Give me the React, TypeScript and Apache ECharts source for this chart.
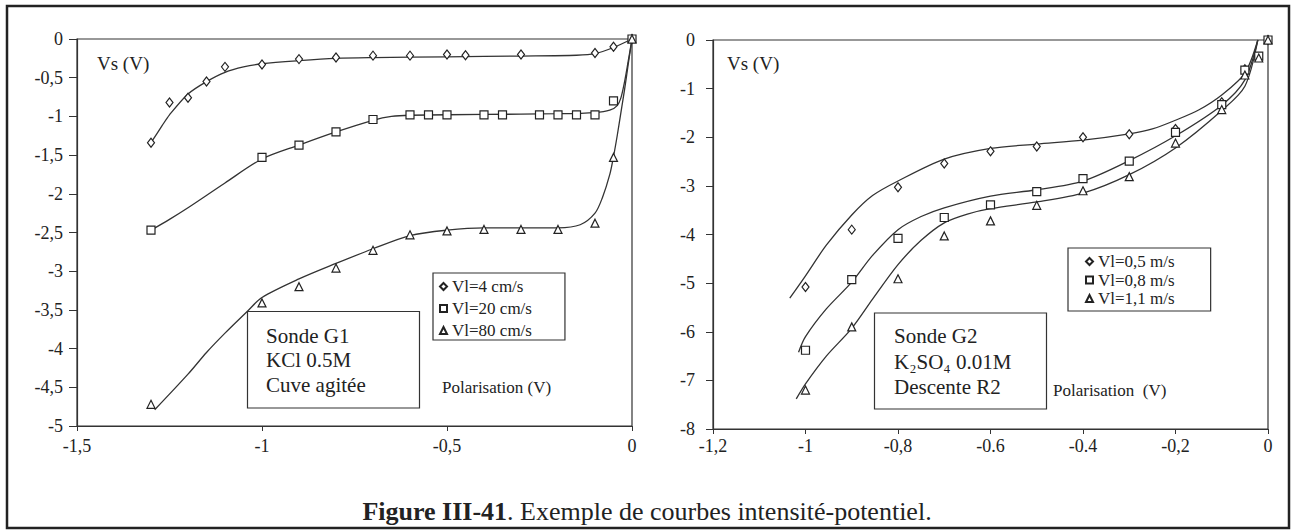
import React, { useEffect, useRef } from "react";
import * as echarts from "echarts";

// ---------- Left chart (Sonde G1) : measured points ----------
const L_NAMES = ["Vl=4 cm/s", "Vl=20 cm/s", "Vl=80 cm/s"];
const L_A_X = [-1.3, -1.25, -1.2, -1.15, -1.1, -1.0, -0.9, -0.8, -0.7, -0.6, -0.5, -0.45, -0.3, -0.1, -0.05, 0];
const L_A_Y = [-1.34, -0.82, -0.76, -0.55, -0.36, -0.33, -0.26, -0.24, -0.215, -0.215, -0.2, -0.21, -0.2, -0.18, -0.1, 0];
const L_B_X = [-1.3, -1.0, -0.9, -0.8, -0.7, -0.6, -0.55, -0.5, -0.4, -0.35, -0.25, -0.2, -0.15, -0.1, -0.05, 0];
const L_B_Y = [-2.47, -1.53, -1.37, -1.2, -1.04, -0.98, -0.98, -0.98, -0.98, -0.98, -0.98, -0.98, -0.98, -0.98, -0.8, 0];
const L_C_X = [-1.3, -1.0, -0.9, -0.8, -0.7, -0.6, -0.5, -0.4, -0.3, -0.2, -0.1, -0.05, 0];
const L_C_Y = [-4.72, -3.41, -3.2, -2.96, -2.73, -2.53, -2.48, -2.46, -2.46, -2.46, -2.38, -1.53, 0];

// ---------- Left chart : fitted curves ----------
const L_FA_X = [-1.3, -1.27, -1.25, -1.2, -1.15, -1.1, -1.05, -1.0, -0.9, -0.8, -0.7, -0.5, -0.3, -0.15, -0.1, -0.05, 0];
const L_FA_Y = [-1.34, -1.12, -0.98, -0.71, -0.55, -0.43, -0.36, -0.32, -0.28, -0.25, -0.24, -0.23, -0.22, -0.21, -0.19, -0.11, 0];
const L_FB_X = [-1.3, -1.25, -1.2, -1.1, -1.0, -0.9, -0.8, -0.7, -0.65, -0.6, -0.4, -0.2, -0.1, -0.06, -0.04, -0.03, -0.02, -0.01, 0];
const L_FB_Y = [-2.47, -2.33, -2.18, -1.86, -1.55, -1.37, -1.2, -1.05, -1.0, -0.985, -0.975, -0.965, -0.95, -0.92, -0.86, -0.76, -0.55, -0.28, 0];
const L_FC_X = [-1.29, -1.2, -1.15, -1.1, -1.04, -1.0, -0.9, -0.8, -0.7, -0.6, -0.5, -0.4, -0.3, -0.2, -0.14, -0.1, -0.08, -0.06, -0.05, -0.04, -0.03, -0.02, -0.01, 0];
const L_FC_Y = [-4.79, -4.33, -4.05, -3.8, -3.52, -3.34, -3.1, -2.9, -2.71, -2.54, -2.47, -2.44, -2.44, -2.44, -2.4, -2.25, -2.05, -1.75, -1.52, -1.25, -0.95, -0.65, -0.32, 0];

// ---------- Right chart (Sonde G2) : measured points ----------
const R_NAMES = ["Vl=0,5 m/s", "Vl=0,8 m/s", "Vl=1,1 m/s"];
const R_A_X = [-1.0, -0.9, -0.8, -0.7, -0.6, -0.5, -0.4, -0.3, -0.2, -0.1, -0.05, 0];
const R_A_Y = [-5.08, -3.9, -3.03, -2.54, -2.29, -2.19, -2.0, -1.94, -1.83, -1.28, -0.6, 0];
const R_B_X = [-1.0, -0.9, -0.8, -0.7, -0.6, -0.5, -0.4, -0.3, -0.2, -0.1, -0.05, -0.02, 0];
const R_B_Y = [-6.38, -4.93, -4.08, -3.65, -3.39, -3.12, -2.85, -2.49, -1.9, -1.33, -0.62, -0.33, 0];
const R_C_X = [-1.0, -0.9, -0.8, -0.7, -0.6, -0.5, -0.4, -0.3, -0.2, -0.1, -0.05, -0.02, 0];
const R_C_Y = [-7.2, -5.9, -4.91, -4.03, -3.72, -3.4, -3.1, -2.81, -2.12, -1.43, -0.72, -0.37, 0];

// ---------- Right chart : fitted curves ----------
const R_FA_X = [-1.034, -1.0, -0.955, -0.9, -0.855, -0.8, -0.7, -0.6, -0.5, -0.4, -0.3, -0.25, -0.2, -0.15, -0.1, -0.05, -0.022];
const R_FA_Y = [-5.31, -4.85, -4.22, -3.6, -3.2, -2.9, -2.45, -2.23, -2.14, -2.06, -1.93, -1.83, -1.65, -1.44, -1.13, -0.68, 0];
const R_FB_X = [-1.015, -1.0, -0.955, -0.9, -0.855, -0.8, -0.75, -0.7, -0.6, -0.5, -0.4, -0.3, -0.2, -0.1, -0.05, -0.022];
const R_FB_Y = [-6.42, -6.1, -5.53, -4.98, -4.43, -3.9, -3.63, -3.45, -3.21, -3.08, -2.9, -2.48, -1.97, -1.34, -0.82, 0];
const R_FC_X = [-1.02, -1.0, -0.955, -0.9, -0.855, -0.8, -0.75, -0.7, -0.65, -0.6, -0.5, -0.4, -0.3, -0.2, -0.1, -0.05, -0.022];
const R_FC_Y = [-7.38, -7.07, -6.5, -5.93, -5.33, -4.62, -4.12, -3.76, -3.58, -3.47, -3.33, -3.15, -2.77, -2.22, -1.45, -0.95, 0];

// ---------- Tick labels ----------
const L_X_TICKS = [-1.5, -1, -0.5, 0];
const L_X_LABELS = ["-1,5", "-1", "-0,5", "0"];
const L_Y_TICKS = [0, -0.5, -1, -1.5, -2, -2.5, -3, -3.5, -4, -4.5, -5];
const L_Y_LABELS = ["0", "-0,5", "-1", "-1,5", "-2", "-2,5", "-3", "-3,5", "-4", "-4,5", "-5"];
const R_X_TICKS = [-1.2, -1, -0.8, -0.6, -0.4, -0.2, 0];
const R_X_LABELS = ["-1,2", "-1", "-0,8", "-0.6", "-0.4", "-0,2", "0"];
const R_Y_TICKS = [0, -1, -2, -3, -4, -5, -6, -7, -8];
const R_Y_LABELS = ["0", "-1", "-2", "-3", "-4", "-5", "-6", "-7", "-8"];

const SYMBOLS = ["diamond", "rect", "triangle"];
const SYMBOL_SIZES: any[] = [[7, 9], 8, 8];

const FONT = '"Liberation Serif", "Times New Roman", serif';
const INK = "#222";

const zip = (xs: number[], ys: number[]) => xs.map((x, i) => [x, ys[i]]);
const lookup = (ticks: number[], labels: string[]) => (v: number) => {
  const i = ticks.findIndex((t) => Math.abs(t - v) < 1e-6);
  return i >= 0 ? labels[i] : "";
};

export default function App() {
  const ref = useRef<HTMLDivElement>(null);

  useEffect(() => {
    if (!ref.current) return;
    const chart = echarts.init(ref.current, undefined, { renderer: "svg" });

    const axisLine = { show: true, lineStyle: { color: "#333", width: 1.2 } };
    const labelStyle = { fontFamily: FONT, fontSize: 18, color: INK };

    const scatter = (name: string, data: number[][], k: number, idx: number) => ({
      name,
      type: "scatter",
      xAxisIndex: idx,
      yAxisIndex: idx,
      data,
      symbol: SYMBOLS[k],
      symbolSize: SYMBOL_SIZES[k],
      itemStyle: { color: "#fff", borderColor: INK, borderWidth: 1.2, opacity: 1 },
      z: 4,
      silent: true,
    });
    const curve = (name: string, data: number[][], idx: number) => ({
      name,
      type: "line",
      xAxisIndex: idx,
      yAxisIndex: idx,
      data,
      showSymbol: false,
      smooth: 0.3,
      lineStyle: { color: "#333", width: 1.3 },
      z: 3,
      silent: true,
    });

    const legendBase = {
      orient: "vertical",
      selectedMode: false,
      itemWidth: 7,
      itemHeight: 7,
      borderColor: "#333",
      borderWidth: 1.2,
      backgroundColor: "#fff",
      textStyle: { fontFamily: FONT, fontSize: 17, color: INK, lineHeight: 17 },
    };

    const text = (t: string, x: number, y: number, size: number, align = "left") => ({
      type: "text",
      x,
      y,
      z: 10,
      style: {
        text: t,
        fontFamily: FONT,
        fontSize: size,
        fill: INK,
        align,
        verticalAlign: "middle",
      },
    });

    chart.setOption({
      animation: false,
      backgroundColor: "#fff",
      grid: [
        { left: 77, top: 39, width: 555, height: 387, show: true, borderColor: "#333", borderWidth: 1.2, backgroundColor: "transparent" },
        { left: 713, top: 40, width: 555, height: 389, show: true, borderColor: "#333", borderWidth: 1.2, backgroundColor: "transparent" },
      ],
      xAxis: [
        {
          type: "value", gridIndex: 0, min: -1.5, max: 0, interval: 0.5, position: "bottom",
          axisLine: { ...axisLine, onZero: false },
          axisTick: { show: true, length: 5, lineStyle: { color: "#333" } },
          axisLabel: { ...labelStyle, margin: 11, formatter: lookup(L_X_TICKS, L_X_LABELS) },
          splitLine: { show: false },
        },
        {
          type: "value", gridIndex: 1, min: -1.2, max: 0, interval: 0.2, position: "bottom",
          axisLine: { ...axisLine, onZero: false },
          axisTick: { show: true, length: 5, lineStyle: { color: "#333" } },
          axisLabel: { ...labelStyle, margin: 8, formatter: lookup(R_X_TICKS, R_X_LABELS) },
          splitLine: { show: false },
        },
      ],
      yAxis: [
        {
          type: "value", gridIndex: 0, min: -5, max: 0, interval: 0.5, position: "left",
          axisLine: { ...axisLine, onZero: false },
          axisTick: { show: true, length: 8, lineStyle: { color: "#333" } },
          axisLabel: { ...labelStyle, margin: 14, formatter: lookup(L_Y_TICKS, L_Y_LABELS) },
          splitLine: { show: false },
        },
        {
          type: "value", gridIndex: 1, min: -8, max: 0, interval: 1, position: "left",
          axisLine: { ...axisLine, onZero: false },
          axisTick: { show: true, length: 7, lineStyle: { color: "#333" } },
          axisLabel: { ...labelStyle, margin: 18, formatter: lookup(R_Y_TICKS, R_Y_LABELS) },
          splitLine: { show: false },
        },
      ],
      legend: [
        { ...legendBase, left: 433, top: 273, itemGap: 5, padding: [5, 33, 1, 6], data: L_NAMES },
        { ...legendBase, left: 1068, top: 248, itemGap: 1.5, padding: [5, 36, 4, 17], data: R_NAMES },
      ],
      series: [
        curve("fit-L1", zip(L_FA_X, L_FA_Y), 0),
        curve("fit-L2", zip(L_FB_X, L_FB_Y), 0),
        curve("fit-L3", zip(L_FC_X, L_FC_Y), 0),
        scatter(L_NAMES[0], zip(L_A_X, L_A_Y), 0, 0),
        scatter(L_NAMES[1], zip(L_B_X, L_B_Y), 1, 0),
        scatter(L_NAMES[2], zip(L_C_X, L_C_Y), 2, 0),
        curve("fit-R1", zip(R_FA_X, R_FA_Y), 1),
        curve("fit-R2", zip(R_FB_X, R_FB_Y), 1),
        curve("fit-R3", zip(R_FC_X, R_FC_Y), 1),
        scatter(R_NAMES[0], zip(R_A_X, R_A_Y), 0, 1),
        scatter(R_NAMES[1], zip(R_B_X, R_B_Y), 1, 1),
        scatter(R_NAMES[2], zip(R_C_X, R_C_Y), 2, 1),
      ],
      graphic: [
        {
          type: "rect", z: 0, silent: true,
          shape: { x: 7, y: 6, width: 1282, height: 522 },
          style: { fill: "none", stroke: INK, lineWidth: 2.5 },
        },
        text("Vs (V)", 97, 63, 19),
        text("Vs (V)", 727, 63, 19),
        text("Polarisation (V)", 442, 387, 17),
        text("Polarisation  (V)", 1053, 390, 17),
        {
          type: "rect", z: 9, silent: true,
          shape: { x: 247.5, y: 311.5, width: 172, height: 96.5 },
          style: { fill: "#fff", stroke: "#333", lineWidth: 1.2 },
        },
        text("Sonde G1", 266, 336, 21),
        text("KCl 0.5M", 266, 360, 21),
        text("Cuve agitée", 266, 385, 21),
        {
          type: "rect", z: 9, silent: true,
          shape: { x: 874.5, y: 313, width: 172, height: 96 },
          style: { fill: "#fff", stroke: "#333", lineWidth: 1.2 },
        },
        text("Sonde G2", 894, 336, 21),
        text("K₂SO₄ 0.01M", 894, 361.5, 21),
        text("Descente R2", 894, 387, 21),
        {
          type: "text", x: 647, y: 511, z: 10,
          style: {
            text: "{b|Figure III-41}. Exemple de courbes intensité-potentiel.",
            fontFamily: FONT,
            fontSize: 26,
            fill: INK,
            align: "center",
            verticalAlign: "middle",
            rich: { b: { fontFamily: FONT, fontSize: 26, fontWeight: "bold", fill: INK } },
          },
        },
      ],
    });

    return () => chart.dispose();
  }, []);

  return (
    <div
      ref={ref}
      style={{ position: "fixed", left: 0, top: 0, width: 1292, height: 530, background: "#fff" }}
    />
  );
}
